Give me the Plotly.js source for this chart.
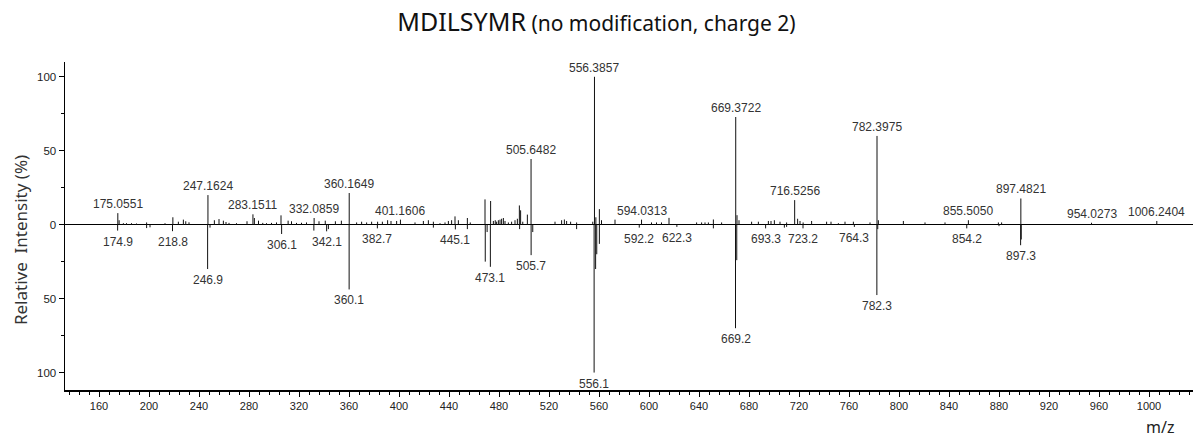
<!DOCTYPE html>
<html>
<head>
<meta charset="utf-8">
<script src="https://cdn.plot.ly/plotly-3.0.1.min.js"></script>
<style>html,body{margin:0;padding:0;background:#fff;}#chart{width:1193px;height:439px;}</style>
</head>
<body>
<div id="chart"></div>
<script>
// ---- Data ----
// Experimental spectrum (upper), labelled peaks
const upperLabelMz  = [175.0551, 247.1624, 283.1511, 332.0859, 360.1649, 401.1606, 505.6482, 556.3857, 594.0313, 669.3722, 716.5256, 782.3975, 855.5050, 897.4821, 954.0273, 1006.2404];
const upperLabelInt = [7.8, 20, 7, 4.5, 21.4, 3.4, 44.4, 100, 3.4, 72.8, 16.6, 60, 3, 17.7, 1.3, 2.5];

// Experimental spectrum (upper), unlabelled peaks
const upperMz  = [176.1, 179.5, 182, 186, 190, 198.1, 212.8, 219.1, 223.5, 227.5, 229.4, 232, 252.3, 256, 259.5, 261.6, 264, 270, 278.4, 284.3, 287.6, 291, 294, 298, 302, 305.6, 311.3, 314, 318, 322, 326, 336, 341, 349.1, 353.9, 366.1, 370.1, 374.1, 378.1, 382.9, 386.7, 390.9, 393.6, 398.1, 412.8, 419.5, 423.5, 427.5,
                  432.8, 436.8, 439.5, 442.1, 444.8, 447.5, 454.7, 457, 468.8, 473.3, 475.5, 477, 478.1, 479.5, 480.8, 482.1, 483.5, 484.8, 487.5, 490.1, 492.8, 494.7, 496.3, 497.3, 499, 502.7, 524.8, 530.1, 532.3, 534.1, 537.3, 542.1, 555, 557.5, 560.3, 562, 572.8, 602, 606, 610, 616, 638.1, 642.1, 644.8, 647.5, 651.5, 658.1,
                  670.4, 672, 682.1, 687.5, 695.5, 697.6, 700.3, 704.8, 710.1, 718.9, 720.8, 723.3, 730.1, 742.1, 745.6, 751.5, 756.8, 763.5, 776.8, 783.5, 803.5, 820.8, 836.8, 879.5, 882.1];
const upperInt = [3, 1, 1, 1, 0.8, 1.5, 1, 5, 2, 3.4, 2.3, 1.6, 3, 3.8, 2.7, 1.8, 1.2, 1, 2.3, 4.5, 2.7, 1.2, 1, 1.2, 1.5, 6.3, 2.7, 2.3, 1.2, 1.3, 1.5, 2.3, 2.7, 2.3, 2.7, 1.5, 2, 1.5, 2, 2, 2, 3, 2.5, 2.5, 1.5, 2.5, 3, 2,
                  1, 1.5, 2.5, 3, 5.6, 3, 4.5, 1.5, 17.1, 16, 2.5, 3, 2, 3, 3.4, 4, 4.5, 2.5, 1.5, 2, 3, 4, 13, 9.7, 2, 6.8, 2, 3, 3.5, 2.5, 2, 1.5, 2, 5, 10.5, 3, 3.4, 1.5, 1.5, 1.5, 4.6, 1.5, 1.5, 1.5, 1.5, 3.5, 1.5,
                  6.4, 3, 2, 2, 2.5, 2.5, 3, 2, 1.5, 4, 2.5, 1.5, 2.5, 2, 2, 1, 2, 2, 1.5, 3, 2.5, 1.5, 1.5, 1.5, 1.5];

// Reference spectrum (lower, mirrored), labelled peaks
const lowerLabelMz  = [174.9, 218.8, 246.9, 306.1, 342.1, 360.1, 382.7, 445.1, 473.1, 505.7, 556.1, 592.2, 622.3, 669.2, 693.3, 723.2, 764.3, 782.3, 854.2, 897.3];
const lowerLabelInt = [4, 4.4, 30, 6.3, 4.5, 43.8, 2.5, 3.2, 28.5, 20.6, 100, 2, 1.5, 70, 2.5, 2.5, 1.5, 47.6, 2.5, 13.9];

// Reference spectrum (lower), unlabelled peaks
const lowerMz  = [198.1, 200.8, 248.8, 331.9, 343.5, 427.5, 454.7, 469.0, 470.5, 496.5, 507.0, 542.1, 557.3, 558.2, 560.3, 651.5, 670.2, 708.3, 710.1, 783.0, 880.0, 897.8];
const lowerInt = [2.3, 1.8, 2, 4, 3, 2, 3, 25, 5, 3, 5, 3, 30, 20, 13, 2.5, 24, 2, 1.5, 3, 1, 10];

// Precursor m/z marker
const precursorMz = [514.75];

// Axis tick labels
const yTickVals = [-100, -50, 0, 50, 100];
const yTickText = ['100', '50', '0', '50', '100'];

// ---- Build traces ----
function sticks(mzArr, intArr, sign) {
  const xs = [], ys = [];
  for (let i = 0; i < mzArr.length; i++) {
    xs.push(mzArr[i], mzArr[i], null);
    ys.push(0, sign * intArr[i], null);
  }
  return {x: xs, y: ys};
}
const allUpMz = upperLabelMz.concat(upperMz), allUpInt = upperLabelInt.concat(upperInt);
const allLoMz = lowerLabelMz.concat(lowerMz), allLoInt = lowerLabelInt.concat(lowerInt);
const up = sticks(allUpMz, allUpInt, 1);
const lo = sticks(allLoMz, allLoInt, -1);

const lineStyle = {color: '#111', width: 1};
const traces = [
  {type: 'scatter', mode: 'lines', x: up.x, y: up.y, line: lineStyle, hoverinfo: 'skip', showlegend: false},
  {type: 'scatter', mode: 'lines', x: lo.x, y: lo.y, line: lineStyle, hoverinfo: 'skip', showlegend: false},
  {type: 'scatter', mode: 'markers', x: precursorMz, y: precursorMz.map(() => -114.2), cliponaxis: false,
   marker: {symbol: 'triangle-up-open', size: 9, color: '#333', line: {width: 1, color: '#333'}}, hoverinfo: 'skip', showlegend: false}
];

const labelFont = {family: 'Liberation Sans, Arial, sans-serif', size: 12, color: '#333'};
const annotations = [];
upperLabelMz.forEach((m, i) => annotations.push({
  x: m, y: upperLabelInt[i], xref: 'x', yref: 'y', text: m.toFixed(4), showarrow: false,
  xanchor: 'center', yanchor: 'bottom', yshift: 0, font: labelFont
}));
lowerLabelMz.forEach((m, i) => annotations.push({
  x: m, y: -lowerLabelInt[i], xref: 'x', yref: 'y', text: m.toFixed(1), showarrow: false,
  xanchor: 'center', yanchor: 'top', yshift: -2, font: labelFont
}));
annotations.push({
  xref: 'paper', yref: 'paper', x: -0.0399, y: 0.457, text: 'Relative  Intensity (%)', textangle: -90,
  showarrow: false, xanchor: 'center', yanchor: 'middle',
  font: {family: 'Noto Sans, Open Sans, sans-serif', size: 17, color: '#333'}
});
annotations.push({
  xref: 'paper', yref: 'paper', x: 0.9707, y: -0.1115, text: 'm/z', showarrow: false,
  xanchor: 'center', yanchor: 'middle',
  font: {family: 'Noto Sans, Open Sans, sans-serif', size: 16, color: '#222'}
});

const tickFont = {family: 'Liberation Sans, Arial, sans-serif', size: 11, color: '#222'};
const layout = {
  width: 1193, height: 439,
  margin: {l: 65, r: 0, t: 62, b: 49, pad: 0},
  paper_bgcolor: '#fff', plot_bgcolor: '#fff',
  title: {
    text: '<span style="font-size:25px">MDILSYMR</span> (no modification, charge 2)',
    font: {family: 'Noto Sans, Open Sans, sans-serif', size: 21, color: '#111'},
    x: 0.5, xanchor: 'center', y: 0.945, yanchor: 'middle'
  },
  xaxis: {
    range: [132.8, 1035.2], showgrid: false, zeroline: false,
    showline: true, linecolor: '#000', linewidth: 1.5,
    ticks: 'outside', ticklen: 5, tickcolor: '#000', tickwidth: 1,
    tick0: 0, dtick: 40, tickfont: tickFont,
    minor: {dtick: 8, tick0: 0, ticks: 'outside', ticklen: 3, tickcolor: '#000', tickwidth: 1}
  },
  yaxis: {
    range: [-111.8, 110], showgrid: false,
    zeroline: true, zerolinecolor: '#000', zerolinewidth: 1.5,
    showline: true, linecolor: '#000', linewidth: 1.5,
    ticks: 'outside', ticklen: 5, tickcolor: '#000', tickwidth: 1,
    tickmode: 'array', tickvals: yTickVals, ticktext: yTickText, tickfont: {family: 'Liberation Sans, Arial, sans-serif', size: 11.5, color: '#222'},
    minor: {tickmode: 'array', tickvals: [-75, -25, 25, 75], ticks: 'outside', ticklen: 3, tickcolor: '#000', tickwidth: 1}
  },
  annotations: annotations
};

Plotly.newPlot('chart', traces, layout, {displayModeBar: false, staticPlot: true});
</script>
</body>
</html>
